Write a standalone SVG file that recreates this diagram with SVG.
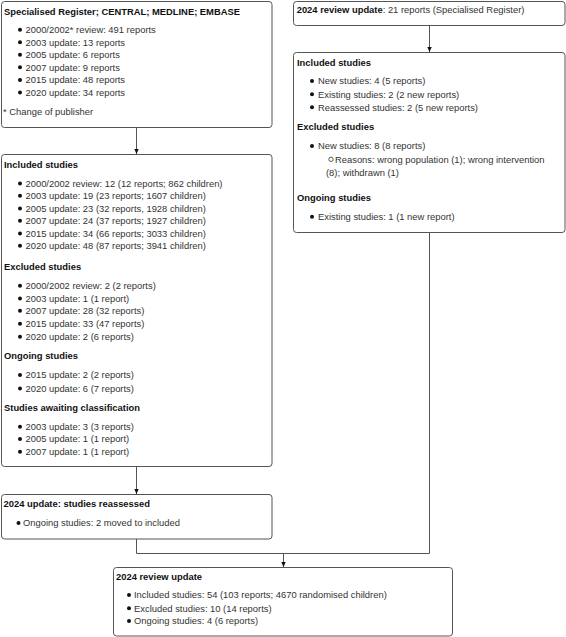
<svg xmlns="http://www.w3.org/2000/svg" width="566" height="637" viewBox="0 0 566 637">
<defs>
<style>
.box{fill:#fff;stroke:#555;stroke-width:1}
.h{font-family:"Liberation Sans",Arial,sans-serif;font-size:9.4px;font-weight:bold;fill:#111}
.t{font-family:"Liberation Sans",Arial,sans-serif;font-size:9.4px;fill:#333}
.b{fill:#111}
.c{fill:none;stroke:#333;stroke-width:0.8}
.ln{fill:none;stroke:#555;stroke-width:1}
</style>
<marker id="ah" markerWidth="6" markerHeight="6" refX="5" refY="3" orient="auto" markerUnits="userSpaceOnUse">
<path d="M0,0.8 L5,3 L0,5.2 z" fill="#111"/>
</marker>
</defs>
<rect width="566" height="637" fill="#fff"/>

<g id="connectors">
<line class="ln" x1="136.5" y1="128" x2="136.5" y2="154" marker-end="url(#ah)"/>
<line class="ln" x1="429.5" y1="25.5" x2="429.5" y2="52" marker-end="url(#ah)"/>
<line class="ln" x1="136.5" y1="467" x2="136.5" y2="494" marker-end="url(#ah)"/>
<path class="ln" d="M136.5,539 V553.5 H429.5 V233"/>
<line class="ln" x1="283.5" y1="553.5" x2="283.5" y2="567" marker-end="url(#ah)"/>
</g>

<g id="search">
<rect class="box" x="1.5" y="1.5" width="270.5" height="126" rx="3"/>
<text class="h" x="4" y="15">Specialised Register; CENTRAL; MEDLINE; EMBASE</text>
<circle class="b" cx="20" cy="29.8" r="2"/><text class="t" x="25.5" y="33">2000/2002* review: 491 reports</text>
<circle class="b" cx="20" cy="42.3" r="2"/><text class="t" x="25.5" y="45.5">2003 update: 13 reports</text>
<circle class="b" cx="20" cy="54.8" r="2"/><text class="t" x="25.5" y="58">2005 update: 6 reports</text>
<circle class="b" cx="20" cy="67.3" r="2"/><text class="t" x="25.5" y="70.5">2007 update: 9 reports</text>
<circle class="b" cx="20" cy="80" r="2"/><text class="t" x="25.5" y="83.3">2015 update: 48 reports</text>
<circle class="b" cx="20" cy="92.4" r="2"/><text class="t" x="25.5" y="95.6">2020 update: 34 reports</text>
<text class="t" x="3" y="115">* Change of publisher</text>
</g>

<g id="previous">
<rect class="box" x="1.5" y="154.5" width="270.5" height="312" rx="3"/>
<text class="h" x="4" y="168.3">Included studies</text>
<circle class="b" cx="20" cy="183.4" r="2"/><text class="t" x="25.5" y="186.6">2000/2002 review: 12 (12 reports; 862 children)</text>
<circle class="b" cx="20" cy="195.8" r="2"/><text class="t" x="25.5" y="199">2003 update: 19 (23 reports; 1607 children)</text>
<circle class="b" cx="20" cy="208.4" r="2"/><text class="t" x="25.5" y="211.6">2005 update: 23 (32 reports, 1928 children)</text>
<circle class="b" cx="20" cy="220.8" r="2"/><text class="t" x="25.5" y="224">2007 update: 24 (37 reports; 1927 children)</text>
<circle class="b" cx="20" cy="233.4" r="2"/><text class="t" x="25.5" y="236.6">2015 update: 34 (66 reports; 3033 children)</text>
<circle class="b" cx="20" cy="245.8" r="2"/><text class="t" x="25.5" y="249">2020 update: 48 (87 reports; 3941 children)</text>
<text class="h" x="4" y="270">Excluded studies</text>
<circle class="b" cx="20" cy="285.8" r="2"/><text class="t" x="25.5" y="289">2000/2002 review: 2 (2 reports)</text>
<circle class="b" cx="20" cy="298.4" r="2"/><text class="t" x="25.5" y="301.6">2003 update: 1 (1 report)</text>
<circle class="b" cx="20" cy="310.8" r="2"/><text class="t" x="25.5" y="314">2007 update: 28 (32 reports)</text>
<circle class="b" cx="20" cy="323.8" r="2"/><text class="t" x="25.5" y="327">2015 update: 33 (47 reports)</text>
<circle class="b" cx="20" cy="336.8" r="2"/><text class="t" x="25.5" y="340">2020 update: 2 (6 reports)</text>
<text class="h" x="4" y="359.3">Ongoing studies</text>
<circle class="b" cx="20" cy="375" r="2"/><text class="t" x="25.5" y="378.3">2015 update: 2 (2 reports)</text>
<circle class="b" cx="20" cy="388.4" r="2"/><text class="t" x="25.5" y="391.6">2020 update: 6 (7 reports)</text>
<text class="h" x="4" y="410.6">Studies awaiting classification</text>
<circle class="b" cx="20" cy="426.8" r="2"/><text class="t" x="25.5" y="430">2003 update: 3 (3 reports)</text>
<circle class="b" cx="20" cy="439" r="2"/><text class="t" x="25.5" y="442.3">2005 update: 1 (1 report)</text>
<circle class="b" cx="20" cy="451.8" r="2"/><text class="t" x="25.5" y="455">2007 update: 1 (1 report)</text>
</g>

<g id="reassessed">
<rect class="box" x="1.5" y="494.5" width="270.5" height="44.5" rx="3"/>
<text class="h" x="3.5" y="507.3">2024 update: studies reassessed</text>
<circle class="b" cx="18.5" cy="523" r="2"/><text class="t" x="23" y="526.3">Ongoing studies: 2 moved to included</text>
</g>

<g id="update2024">
<rect class="box" x="293.5" y="1.5" width="271.5" height="24" rx="3"/>
<text x="296.7" y="13.3"><tspan class="h">2024 review update</tspan><tspan class="t">: 21 reports (Specialised Register)</tspan></text>
</g>

<g id="update2024results">
<rect class="box" x="293.5" y="52.5" width="271.5" height="180" rx="3"/>
<text class="h" x="297" y="66.3">Included studies</text>
<circle class="b" cx="312" cy="81" r="2"/><text class="t" x="318" y="84.3">New studies: 4 (5 reports)</text>
<circle class="b" cx="312" cy="94.3" r="2"/><text class="t" x="318" y="97.6">Existing studies: 2 (2 new reports)</text>
<circle class="b" cx="312" cy="107.3" r="2"/><text class="t" x="318" y="110.6">Reassessed studies: 2 (5 new reports)</text>
<text class="h" x="297" y="130">Excluded studies</text>
<circle class="b" cx="312" cy="146" r="2"/><text class="t" x="318" y="149.3">New studies: 8 (8 reports)</text>
<circle class="c" cx="331" cy="159.3" r="2.2"/><text class="t" x="335" y="162.6">Reasons: wrong population (1); wrong intervention</text>
<text class="t" x="326" y="176">(8); withdrawn (1)</text>
<text class="h" x="297" y="200.6">Ongoing studies</text>
<circle class="b" cx="312" cy="216.7" r="2"/><text class="t" x="318" y="220">Existing studies: 1 (1 new report)</text>
</g>

<g id="final">
<rect class="box" x="113.5" y="567.5" width="339" height="68.5" rx="3"/>
<text class="h" x="116" y="580.3">2024 review update</text>
<circle class="b" cx="129" cy="595" r="2"/><text class="t" x="134" y="598.3">Included studies: 54 (103 reports; 4670 randomised children)</text>
<circle class="b" cx="129" cy="608.3" r="2"/><text class="t" x="134" y="611.6">Excluded studies: 10 (14 reports)</text>
<circle class="b" cx="129" cy="621" r="2"/><text class="t" x="134" y="624.3">Ongoing studies: 4 (6 reports)</text>
</g>
</svg>
